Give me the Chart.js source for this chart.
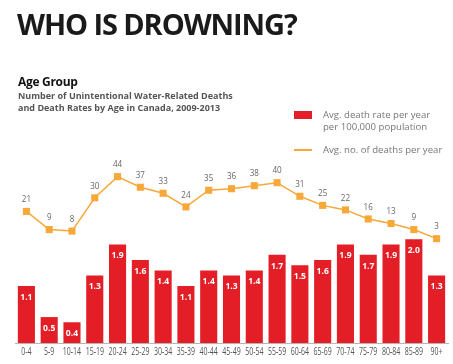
<!DOCTYPE html>
<html>
<head>
<meta charset="utf-8">
<script src="https://cdn.jsdelivr.net/npm/chart.js@4/dist/chart.umd.min.js"></script>
<style>
  html, body { margin: 0; padding: 0; background: #fff; }
  body { width: 453px; height: 364px; position: relative; overflow: hidden; font-family: "Open Sans", "DejaVu Sans", sans-serif; }
  #wrap { position: absolute; left: 0; top: 0; width: 453px; height: 364px; }
  .title { position: absolute; left: 17px; top: 4px; font-size: 29px; font-weight: 700; color: #1a1a1a; letter-spacing: -1.1px; }
  .h2 { position: absolute; left: 18px; top: 73px; font-size: 12px; font-weight: 700; color: #111; letter-spacing: -0.3px; }
  .sub { position: absolute; left: 18px; top: 90px; font-size: 9px; font-weight: 700; color: #555; line-height: 12px; }
  .leg { position: absolute; left: 294px; font-size: 9.6px; color: #777; line-height: 12px; }
  .sw { position: absolute; left: 294px; }
</style>
</head>
<body>
<div id="wrap"><canvas id="chart" width="453" height="364"></canvas></div>
<div class="title">WHO IS DROWNING?</div>
<div class="h2">Age Group</div>
<div class="sub">Number of Unintentional Water-Related Deaths<br>and Death Rates by Age in Canada, 2009-2013</div>
<div class="sw" style="top:111px;width:18px;height:8px;background:#e41e26"></div>
<div class="leg" style="left:323px;top:109px">Avg. death rate per year<br>per 100,000 population</div>
<div class="sw" style="top:149px;width:18px;height:2px;background:#f7a838"></div>
<div class="leg" style="left:323px;top:144px">Avg. no. of deaths per year</div>
<script>
const ageGroups = ["0-4", "5-9", "10-14", "15-19", "20-24", "25-29", "30-34", "35-39", "40-44", "45-49",
  "50-54", "55-59", "60-64", "65-69", "70-74", "75-79", "80-84", "85-89", "90+"];
const deathRates = [1.1, 0.5, 0.4, 1.3, 1.9, 1.6, 1.4, 1.1, 1.4, 1.3, 1.4, 1.7, 1.5, 1.6, 1.9, 1.7, 1.9, 2.0, 1.3];
const avgDeaths = [21, 9, 8, 30, 44, 37, 33, 24, 35, 36, 38, 40, 31, 25, 22, 16, 13, 9, 3];

const RED = "#e41e26";
const ORANGE = "#f7a838";
const FONT = "'Open Sans', sans-serif";

// condensed text: the source uses a narrow face, so squeeze horizontally
function narrowText(ctx, text, x, y, squeeze) {
  ctx.save();
  ctx.translate(x, y);
  ctx.scale(squeeze, 1);
  ctx.fillText(text, 0, 0);
  ctx.restore();
}

// value labels (white inside bars, gray above points) and the category labels
const valueLabels = {
  id: "valueLabels",
  afterDatasetsDraw(chart) {
    const { ctx } = chart;
    const xScale = chart.scales.x;
    ctx.save();
    ctx.textAlign = "center";
    ctx.textBaseline = "middle";

    chart.getDatasetMeta(1).data.forEach((bar, i) => {
      ctx.fillStyle = "#fff";
      ctx.font = "bold 9.5px " + FONT;
      narrowText(ctx, deathRates[i].toFixed(1), bar.x, bar.y + 11, 0.9);
    });

    chart.getDatasetMeta(0).data.forEach((pt, i) => {
      ctx.fillStyle = "#666";
      ctx.font = "9.5px " + FONT;
      narrowText(ctx, String(avgDeaths[i]), pt.x, pt.y - 12, 0.85);
    });

    ctx.fillStyle = "#555";
    ctx.font = "10px " + FONT;
    ageGroups.forEach((label, i) => {
      narrowText(ctx, label, xScale.getPixelForTick(i), xScale.top + 9, 0.7);
    });
    ctx.restore();
  },
};

new Chart(document.getElementById("chart"), {
  data: {
    labels: ageGroups,
    datasets: [
      {
        type: "line",
        label: "Avg. no. of deaths per year",
        data: avgDeaths,
        yAxisID: "yDeaths",
        borderColor: ORANGE,
        borderWidth: 1.5,
        backgroundColor: ORANGE,
        pointStyle: "rect",
        pointRadius: 5,
        pointBorderWidth: 0,
        tension: 0,
        order: 0,
      },
      {
        type: "bar",
        label: "Avg. death rate per year per 100,000 population",
        data: deathRates,
        yAxisID: "yRate",
        backgroundColor: RED,
        barPercentage: 0.75,
        categoryPercentage: 1,
        order: 1,
      },
    ],
  },
  options: {
    responsive: false,
    animation: false,
    layout: { padding: { left: 15, right: 5, top: 160, bottom: 0 } },
    plugins: {
      legend: { display: false },
      tooltip: { enabled: false },
    },
    scales: {
      x: {
        grid: { display: false },
        border: { display: true, color: "#b5b5b5", width: 1 },
        ticks: { display: false },
        afterFit: (scale) => { scale.height = 21; },
      },
      yRate: {
        display: false,
        min: 0,
        max: 3.53,
      },
      yDeaths: {
        display: false,
        min: -66,
        max: 55,
      },
    },
  },
  plugins: [valueLabels],
});
</script>
</body>
</html>
